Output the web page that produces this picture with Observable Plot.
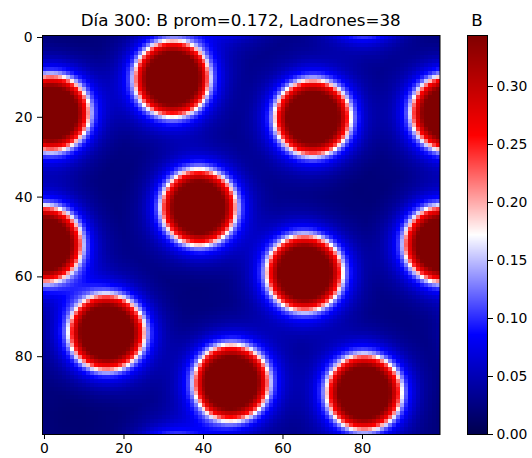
<!DOCTYPE html>
<html><head><meta charset="utf-8">
<script src="https://cdn.jsdelivr.net/npm/d3@7"></script>
<script src="https://cdn.jsdelivr.net/npm/@observablehq/plot@0.6"></script>
<style>
body{margin:0;background:#fff;font-family:"DejaVu Sans",sans-serif;}
#wrap{position:relative;width:532px;height:458px;overflow:hidden;}
.t{position:absolute;white-space:nowrap;color:#000;font-size:16.7px;line-height:16.7px;transform:translateX(-50%);}
#main,#cb{position:absolute;top:0;}
#main{left:0;} #cb{left:460px;}
</style></head><body><div id="wrap"><div id="main"></div><div id="cb"></div></div>
<script>
// ---- data ----
const titleText = "Día 300: B prom=0.172, Ladrones=38";
const colorbarLabel = "B";
const gridSize = 100;
// spot centres (column, row) of the high-B patches
const spotCols = [32.1, 1.8, 67.4, 38.8, 0.0, 65.4, 15.7, 47.0, 80.4];
const spotRows = [10.4, 19.0, 20.2, 42.6, 51.8, 59.0, 73.9, 86.4, 88.9];
// radial profile of B around a spot (distance in cells -> B)
const profileR = [0, 6.3, 7, 7.5, 8, 8.5, 9, 9.5, 10, 10.5, 11, 12, 13, 14, 15, 16, 18, 20, 25, 30, 50];
const profileB = [0.344, 0.344, 0.322, 0.30, 0.275, 0.255, 0.22, 0.175, 0.14, 0.115, 0.095, 0.072, 0.056, 0.043, 0.034, 0.027, 0.018, 0.012, 0.006, 0.003, 0.002];
const vmin = 0, vmax = 0.344;
const xTicks = [0, 20, 40, 60, 80];
const yTicks = [0, 20, 40, 60, 80];
const cbTicks = [0, 0.05, 0.10, 0.15, 0.20, 0.25, 0.30];
const seismic = ["#00004d", "#0000ff", "#ffffff", "#ff0000", "#800000"];

// ---- build the field from the spots (periodic grid) ----
const prof = d3.scaleLinear().domain(profileR).range(profileB).clamp(true);
const floor = profileB[profileB.length - 1];
const field = new Array(gridSize * gridSize);
for (let r = 0; r < gridSize; r++) {
  for (let c = 0; c < gridSize; c++) {
    let s = floor;
    for (let k = 0; k < spotCols.length; k++) {
      let dx = Math.abs(c - spotCols[k]); dx = Math.min(dx, gridSize - dx);
      let dy = Math.abs(r - spotRows[k]); dy = Math.min(dy, gridSize - dy);
      s += prof(Math.hypot(dx, dy)) - floor;
    }
    field[r * gridSize + c] = Math.min(vmax, s);
  }
}

const colorOpts = {type: "linear", domain: seismic.map((_, i) => vmin + i * (vmax - vmin) / 4), range: seismic, interpolate: "rgb"};
const style = {fontFamily: "DejaVu Sans", fontSize: "13.9px", color: "#000", background: "transparent", overflow: "visible"};

const main = Plot.plot({
  width: 460, height: 458,
  marginLeft: 42, marginRight: 20.5, marginTop: 35, marginBottom: 24,
  style,
  x: {domain: [-0.5, gridSize - 0.5], ticks: xTicks, tickFormat: d => String(d), tickSize: 5, tickPadding: 4, label: null},
  y: {domain: [-0.5, gridSize - 0.5], reverse: true, ticks: yTicks, tickFormat: d => String(d), tickSize: 5, tickPadding: 5, label: null},
  color: colorOpts,
  marks: [
    Plot.raster(field, {width: gridSize, height: gridSize, x1: -0.5, x2: gridSize - 0.5, y1: -0.5, y2: gridSize - 0.5, fill: d => d, imageRendering: "pixelated"}),
    Plot.frame({stroke: "#000", strokeWidth: 1})
  ]
});
document.getElementById("main").append(main);

const nCb = 400;
const cbValues = d3.range(nCb).map(i => vmin + (i + 0.5) * (vmax - vmin) / nCb);
const cb = Plot.plot({
  width: 72, height: 458,
  marginLeft: 7, marginRight: 45, marginTop: 35, marginBottom: 24,
  style,
  x: {domain: [0, 1], axis: null},
  y: {domain: [vmin, vmax], axis: "right", ticks: cbTicks, tickFormat: d3.format(".2f"), tickSize: 5, tickPadding: 4, label: null},
  color: colorOpts,
  marks: [
    Plot.raster(cbValues, {width: 1, height: nCb, x1: 0, x2: 1, y1: vmin, y2: vmax, fill: d => d}),
    Plot.frame({stroke: "#000", strokeWidth: 1})
  ]
});
document.getElementById("cb").append(cb);

const wrap = document.getElementById("wrap");
function addText(txt, x, top) {
  const d = document.createElement("div");
  d.className = "t"; d.textContent = txt;
  d.style.left = x + "px"; d.style.top = top + "px";
  wrap.append(d);
}
addText(titleText, 240.7, 11.6);
addText(colorbarLabel, 477, 11.6);
</script></body></html>
